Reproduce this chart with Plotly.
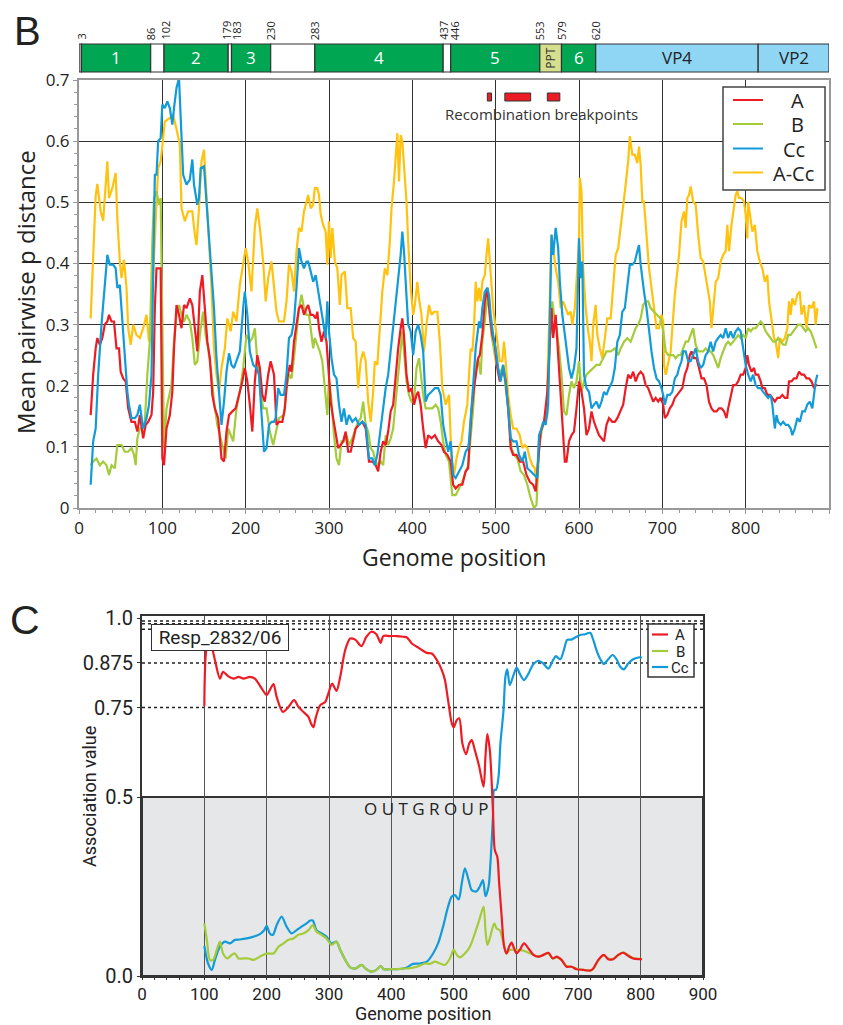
import plotly.graph_objects as go

# The page body has an 8 px margin, so the figure is sized to the remaining window
# and all reference pixel positions are converted with that offset.
OFF = 8
W, H = 843 - OFF, 1025 - OFF


def fx(p):
    return (p - OFF) / W


def fy(p):
    return 1 - (p - OFF) / H


# ---------------- Panel B data: (genome position, mean pairwise p distance) ----------------
B_ACC = [(14,.31),(17,.40),(20,.51),(22,.53),(24,.51),(26,.485),(29,.47),(32,.53),(34,.567),(36,.507),(40,.523),(44,.548),(46,.474),(49,.403),(51,.376),(54,.406),(57,.36),(59,.294),(62,.267),(65,.30),(69,.283),(73,.278),(77,.294),(81,.316),(84,.272),(86,.294),(89,.381),(93,.49),(95,.556),(98,.567),(100,.594),(103,.632),(109,.638),(113,.643),(117,.62),(121,.594),(123,.49),(127,.469),(131,.485),(136,.485),(139,.447),(141,.43),(144,.49),(147,.567),(150,.586),(153,.50),(156,.436),(159,.36),(162,.261),(165,.218),(168,.19),(171,.229),(175,.261),(178,.31),(182,.289),(185,.321),(189,.305),(193,.365),(197,.403),(200,.425),(203,.403),(207,.354),(211,.46),(214,.49),(217,.458),(219,.425),(221,.403),(224,.338),(227,.376),(231,.403),(234,.36),
         (237,.321),(240,.305),(246,.305),(249,.338),(252,.398),(255,.387),(258,.354),(261,.42),(264,.458),(267,.452),(270,.485),(273,.501),(275,.512),(278,.49),(281,.496),(283,.523),(286,.523),(288,.512),(290,.48),(293,.463),(296,.452),(298,.398),(300,.469),(302,.409),(304,.458),(307,.403),(310,.392),(313,.332),(315,.381),(319,.387),(322,.327),(326,.327),(329,.278),(332,.272),(335,.196),(338,.24),(341,.256),(344,.24),(347,.174),(350,.141),(353,.19),(355,.24),(358,.234),(361,.294),(364,.354),(367,.392),(370,.381),(373,.436),(375,.49),(378,.534),(380,.578),(382,.613),(384,.534),(386,.61),(388,.60),(391,.545),(393,.501),(395,.436),(398,.36),(401,.316),(403,.332),(406,.37),(408,.343),(411,.316),(414,.256),(417,.30),(420,.332),(423,.316),(426,.321),(430,.321),(433,.272),(436,.196),(440,.169),(444,.185),(447,.081),(450,.054),(453,.081),(456,.098),(459,.109),(462,.141),(466,.169),
         (468,.218),(470,.261),(472,.256),(474,.294),(476,.37),(478,.338),(480,.36),(482,.338),(484,.37),(487,.381),(489,.414),(491,.441),(493,.403),(495,.354),(497,.327),(500,.294),(503,.261),(505,.24),(508,.24),(510,.272),(512,.24),(515,.185),(518,.152),(521,.13),(525,.13),(529,.119),(532,.098),(535,.103),(538,.098),(541,.081),(544,.07),(547,.065),(549,.043),(552,.109),(555,.13),(558,.141),(561,.147),(564,.283),(567,.447),(569,.425),(572,.392),(575,.37),(578,.327),(581,.338),(584,.327),(587,.316),(590,.321),(592,.30),(595,.327),(597,.376),(600,.436),(601,.54),(603,.518),(605,.392),(608,.327),(611,.289),(613,.272),(615,.24),(617,.30),(620,.332),(622,.283),(625,.261),(628,.245),(631,.278),(634,.31),(638,.31),(641,.37),(644,.414),(647,.425),(650,.458),(653,.496),(656,.529),(659,.567),(661,.608),(664,.578),(667,.578),(670,.564),(672,.591),(674,.561),(676,.501),(678,.501),(681,.441),(684,.392),(687,.36),(690,.327),(693,.294),(696,.294),(699,.316),(701,.305),
         (702,.234),(704,.218),(706,.229),(708,.24),(710,.256),(712,.294),(715,.349),(718,.387),(720,.414),(723,.469),(726,.485),(728,.458),(730,.507),(732,.512),(734,.526),(737,.501),(740,.496),(743,.447),(746,.409),(749,.403),(752,.376),(755,.354),(757,.338),(759,.294),(761,.327),(764,.37),(767,.376),(770,.403),(773,.414),(776,.42),(778,.463),(780,.42),(783,.463),(786,.49),(788,.512),(790,.518),(792,.507),(795,.507),(798,.501),(800,.48),(802,.441),(803,.501),(806,.474),(808,.452),(811,.463),(814,.42),(817,.403),(820,.392),(823,.37),(826,.381),(828,.338),(831,.305),(834,.278),(836,.272),(839,.245),(841,.278),(844,.272),(847,.278),(850,.294),(852,.338),(854,.316),(856,.343),(859,.332),(862,.349),(865,.354),(867,.316),(870,.332),(873,.294),(876,.332),(879,.327),(882,.338),(884,.30),(886,.327)]

B_CC = [(14,.038),(17,.109),(20,.13),(23,.218),(27,.30),(31,.37),(34,.414),(37,.398),(41,.398),(44,.392),(46,.36),(49,.365),(52,.305),(55,.261),(58,.19),(60,.169),(63,.147),(67,.147),(70,.152),(73,.169),(75,.147),(77,.13),(81,.147),(84,.169),(87,.218),(89,.381),(91,.545),(93,.545),(95,.60),(98,.605),(100,.66),(103,.654),(106,.665),(109,.654),(112,.627),(114,.654),(117,.687),(120,.703),(122,.632),(125,.545),(129,.529),(133,.537),(136,.57),(138,.529),(142,.496),(144,.507),(146,.556),(150,.559),(153,.50),(156,.441),(159,.381),(162,.327),(165,.245),(168,.19),(171,.136),(174,.174),(177,.223),(180,.253),(183,.234),(186,.229),(190,.245),(193,.256),(197,.327),(199,.354),(202,.316),(205,.256),(209,.234),(213,.229),(216,.218),(219,.163),(222,.092),(225,.098),(228,.136),(231,.141),(234,.141),
        (236,.147),(239,.196),(242,.185),(246,.185),(249,.218),(252,.278),(255,.283),(258,.305),(261,.36),(264,.425),(267,.403),(270,.392),(273,.403),(275,.403),(278,.387),(281,.37),(284,.381),(287,.354),(290,.327),(293,.305),(296,.278),(298,.338),(300,.289),(303,.245),(306,.218),(309,.212),(312,.169),(315,.141),(318,.163),(321,.136),(324,.152),(328,.141),(332,.147),(336,.136),(340,.141),(344,.136),(348,.081),(352,.081),(355,.07),(358,.087),(361,.119),(364,.152),(368,.196),(371,.218),(374,.256),(377,.289),(380,.327),(383,.376),(386,.414),(388,.452),(390,.42),(392,.37),(395,.30),(398,.289),(401,.25),(404,.289),(407,.30),(410,.283),(413,.256),(416,.174),(419,.185),(423,.19),(427,.196),(431,.196),(434,.185),(437,.136),(440,.114),(443,.092),(446,.109),(449,.054),(452,.049),(456,.06),(460,.07),(464,.092),(467,.098),
        (468,.109),(471,.158),(473,.201),(476,.261),(478,.289),(480,.305),(482,.294),(484,.327),(487,.354),(490,.36),(492,.349),(494,.316),(497,.283),(500,.261),(503,.229),(506,.207),(509,.234),(512,.207),(515,.163),(518,.114),(521,.109),(525,.109),(528,.087),(532,.076),(535,.092),(538,.065),(542,.06),(546,.054),(550,.049),(552,.119),(555,.13),(557,.141),(560,.136),(563,.169),(565,.283),(567,.447),(569,.414),(572,.458),(575,.425),(577,.37),(580,.316),(582,.294),(585,.261),(588,.229),(591,.212),(594,.229),(597,.261),(600,.441),(602,.376),(604,.403),(606,.218),(609,.196),(612,.19),(615,.163),(618,.169),(621,.174),(624,.163),(627,.174),(630,.19),(633,.185),(636,.196),(640,.207),(643,.229),(646,.272),(649,.283),(652,.321),(655,.327),(658,.365),(661,.398),(664,.398),(667,.403),(670,.42),(672,.43),(674,.398),(676,.37),(678,.354),(681,.327),(684,.289),(687,.256),(690,.229),(693,.212),(696,.207),(699,.196),(701,.185),
        (703,.169),(706,.185),(709,.185),(712,.19),(715,.212),(718,.218),(720,.229),(723,.24),(725,.256),(728,.256),(731,.24),(734,.24),(737,.25),(740,.261),(743,.24),(746,.229),(749,.234),(752,.25),(755,.256),(758,.272),(761,.256),(764,.272),(767,.278),(770,.283),(773,.278),(776,.294),(779,.278),(782,.289),(785,.278),(788,.289),(791,.294),(794,.289),(797,.261),(800,.234),(803,.218),(806,.207),(809,.218),(812,.201),(815,.196),(818,.196),(821,.19),(824,.185),(827,.18),(830,.185),(832,.169),(835,.13),(837,.152),(839,.141),(842,.136),(845,.141),(848,.136),(851,.136),(854,.13),(856,.119),(859,.13),(862,.147),(865,.141),(868,.158),(871,.158),(874,.169),(877,.174),(880,.163),(882,.185),(884,.207),(886,.218)]

B_A = [(14,.152),(17,.218),(20,.261),(22,.278),(25,.267),(28,.278),(31,.30),(34,.305),(36,.316),(39,.305),(42,.305),(45,.261),(48,.261),(50,.223),(53,.212),(56,.207),(59,.163),(63,.141),(67,.141),(70,.125),(73,.152),(77,.114),(80,.136),(83,.141),(87,.152),(89,.19),(91,.327),(93,.392),(96,.392),(98,.392),(100,.081),(102,.07),(105,.13),(109,.152),(112,.19),(114,.261),(117,.332),(120,.316),(123,.294),(126,.332),(129,.327),(133,.343),(136,.332),(139,.289),(142,.256),(145,.354),(148,.381),(151,.327),(154,.272),(157,.245),(160,.185),(163,.163),(167,.147),(171,.081),(174,.076),(177,.125),(180,.152),(184,.158),(188,.163),(192,.185),(196,.207),(199,.229),(202,.207),(205,.169),(208,.125),(211,.207),(214,.25),(217,.229),(220,.185),(223,.174),(227,.218),(230,.24),(234,.218),
       (237,.136),(240,.141),(244,.141),(247,.163),(250,.212),(253,.234),(255,.223),(258,.272),(261,.30),(264,.327),(267,.332),(270,.316),(273,.327),(275,.332),(278,.316),(281,.316),(284,.31),(286,.321),(288,.294),(291,.272),(294,.289),(297,.272),(299,.234),(302,.174),(305,.147),(308,.119),(311,.098),(314,.103),(317,.109),(320,.125),(323,.092),(326,.092),(329,.109),(332,.13),(336,.136),(340,.141),(344,.13),(348,.076),(352,.076),(356,.07),(359,.06),(362,.092),(365,.109),(368,.103),(371,.125),(374,.158),(377,.169),(380,.218),(383,.261),(386,.294),(388,.31),(390,.283),(393,.218),(396,.19),(399,.196),(402,.169),(405,.185),(407,.19),(410,.169),(413,.13),(416,.098),(419,.119),(423,.114),(427,.119),(431,.109),(435,.103),(438,.092),(442,.087),(446,.076),(449,.038),(452,.032),(456,.038),(460,.038),(464,.06),(467,.065),
       (468,.092),(471,.158),(474,.196),(477,.229),(479,.245),(481,.25),(484,.283),(487,.338),(490,.36),(493,.316),(496,.283),(499,.267),(502,.229),(505,.207),(509,.229),(512,.207),(515,.163),(518,.098),(521,.087),(525,.087),(529,.076),(533,.076),(537,.054),(541,.043),(545,.038),(548,.027),(551,.076),(554,.125),(558,.141),(562,.19),(565,.272),(567,.327),(569,.278),(572,.316),(575,.25),(577,.207),(580,.136),(583,.076),(585,.076),(588,.109),(591,.119),(594,.125),(597,.163),(600,.207),(603,.19),(606,.163),(609,.119),(612,.13),(615,.158),(618,.141),(621,.13),(624,.119),(627,.114),(630,.109),(633,.136),(636,.147),(640,.141),(643,.141),(646,.147),(650,.158),(653,.169),(656,.196),(659,.218),(662,.212),(665,.223),(668,.207),(671,.218),(674,.223),(677,.218),(680,.201),(683,.196),(686,.185),(689,.174),(692,.18),(695,.174),(698,.18),(701,.169),
       (703,.147),(706,.152),(709,.163),(712,.169),(715,.18),(718,.185),(721,.19),(724,.196),(727,.218),(730,.229),(733,.25),(735,.256),(738,.245),(741,.245),(744,.229),(747,.212),(750,.212),(753,.201),(756,.174),(759,.163),(762,.158),(765,.158),(768,.163),(771,.163),(774,.158),(777,.147),(779,.163),(782,.185),(785,.201),(788,.201),(791,.207),(794,.218),(797,.218),(800,.229),(802,.25),(804,.234),(807,.223),(810,.229),(812,.218),(815,.218),(818,.207),(820,.196),(823,.196),(826,.185),(829,.185),(832,.18),(835,.174),(838,.18),(841,.18),(844,.185),(847,.18),(850,.18),(852,.207),(855,.207),(858,.212),(861,.212),(864,.223),(867,.218),(870,.218),(873,.212),(876,.212),(879,.207),(882,.196),(884,.201),(886,.201)]

B_B = [(14,.07),(17,.076),(21,.081),(25,.07),(29,.076),(33,.07),(36,.054),(39,.07),(43,.065),(46,.103),(51,.103),(55,.092),(59,.092),(63,.098),(66,.087),(68,.07),(70,.114),(73,.13),(76,.13),(79,.141),(82,.218),(85,.272),(88,.436),(90,.507),(93,.518),(96,.496),(98,.507),(100,.327),(102,.098),(105,.163),(108,.185),(111,.201),(114,.272),(117,.316),(120,.332),(123,.316),(126,.305),(129,.316),(133,.305),(136,.278),(139,.234),(142,.24),(146,.294),(149,.321),(152,.283),(155,.261),(159,.218),(162,.174),(166,.136),(170,.114),(174,.087),(176,.081),(179,.13),(182,.119),(185,.109),(189,.163),(193,.19),(197,.229),(201,.283),(205,.272),(208,.278),(211,.294),(214,.24),(218,.19),(221,.163),(225,.163),(229,.125),(233,.103),
       (237,.13),(240,.147),(246,.152),(249,.196),(252,.218),(255,.212),(258,.245),(261,.283),(264,.327),(267,.349),(270,.327),(273,.316),(276,.316),(278,.294),(281,.261),(283,.278),(286,.267),(289,.256),(292,.24),(295,.19),(298,.152),(300,.212),(303,.174),(306,.119),(309,.081),(312,.07),(315,.109),(318,.109),(321,.119),(324,.103),(328,.114),(332,.13),(335,.141),(338,.147),(341,.174),(344,.136),(347,.125),(350,.098),(353,.092),(356,.076),(359,.07),(362,.076),(365,.07),(368,.119),(371,.103),(374,.114),(377,.13),(380,.174),(383,.218),(386,.267),(388,.289),(390,.256),(393,.207),(396,.185),(399,.174),(402,.174),(405,.229),(408,.245),(410,.218),(413,.185),(416,.163),(420,.163),(424,.163),(428,.169),(431,.163),(434,.141),(437,.109),(440,.087),(444,.076),(448,.021),(452,.021),(456,.032),(460,.043),(464,.06),(467,.07),
       (473,.163),(476,.229),(479,.245),(482,.218),(484,.272),(487,.305),(490,.349),(492,.327),(495,.283),(498,.261),(501,.234),(505,.218),(509,.234),(512,.196),(516,.152),(519,.098),(522,.087),(526,.081),(530,.06),(534,.054),(538,.038),(542,.016),(546,.0),(549,.005),(552,.098),(555,.125),(558,.141),(562,.152),(565,.272),(568,.338),(570,.316),(573,.294),(576,.261),(579,.218),(582,.158),(585,.152),(588,.185),(591,.207),(594,.196),(597,.207),(600,.24),(603,.19),(606,.207),(609,.218),(613,.223),(617,.229),(621,.234),(625,.234),(629,.245),(633,.256),(638,.256),(643,.261),(647,.25),(650,.261),(654,.272),(658,.278),(662,.272),(665,.283),(668,.294),(671,.30),(674,.31),(677,.332),(680,.338),(683,.338),(686,.327),(690,.321),(694,.316),(698,.31),(701,.29),
       (704,.256),(707,.25),(710,.25),(713,.25),(716,.245),(719,.25),(722,.25),(725,.261),(728,.272),(731,.272),(734,.283),(737,.294),(740,.267),(743,.256),(746,.256),(749,.256),(752,.261),(755,.256),(758,.256),(761,.25),(764,.24),(767,.229),(770,.245),(773,.256),(776,.267),(779,.272),(782,.267),(785,.272),(788,.278),(791,.283),(794,.278),(797,.283),(800,.278),(803,.294),(806,.289),(809,.294),(812,.294),(815,.30),(818,.305),(821,.30),(824,.289),(827,.283),(830,.278),(833,.272),(836,.272),(839,.278),(842,.272),(845,.267),(848,.267),(851,.283),(854,.283),(857,.289),(860,.294),(863,.30),(866,.30),(869,.294),(872,.289),(875,.294),(878,.289),(881,.278),(883,.267),(885,.261)]

# ---------------- Panel C data: (genome position, association value) ----------------
C_A = [(100,.754),(104,.92),(109,.935),(117,.883),(125,.831),(130,.85),(138,.838),(147,.831),(155,.836),(163,.831),(173,.836),(181,.831),(192,.804),(200,.785),(205,.799),(211,.816),(216,.78),(226,.738),(235,.752),(244,.771),(251,.752),(259,.738),(267,.724),(271,.706),(275,.695),(279,.724),(286,.757),(294,.766),(299,.79),(305,.817),(312,.797),(318,.836),(326,.911),(334,.943),(342,.94),(352,.922),(360,.948),(368,.962),(376,.955),(383,.931),(387,.95),(398,.95),(409,.95),(419,.948),(425,.946),(433,.929),(441,.92),(449,.911),(457,.903),(465,.901),(473,.883),(481,.855),(486,.827),(491,.771),(497,.706),(500,.695),(505,.715),(509,.72),(514,.65),(520,.62),(525,.65),(529,.659),(534,.631),(541,.585),(548,.529),(551,.613),(554,.676),(558,.631),(563,.464),(566,.352),(570,.333),(573,.259),(577,.166),(581,.082),(585,.063),(589,.082),(593,.093),(597,.077),(601,.063),(606,.073),(613,.091),(620,.077),(628,.059),(636,.054),(644,.059),(652,.065),(659,.049),(665,.054),(673,.045),(681,.026),(689,.026),(697,.019),(708,.017),(719,.015),(724,.021),(732,.045),(741,.059),(748,.047),(756,.047),(764,.059),(772,.065),(780,.056),(788,.049),(796,.047),(802,.047)]

C_CC = [(100,.084),(106,.035),(112,.017),(117,.045),(125,.082),(133,.096),(141,.091),(149,.101),(157,.102),(168,.105),(179,.11),(189,.117),(196,.128),(200,.14),(205,.119),(210,.115),(216,.142),(224,.166),(232,.138),(240,.119),(248,.128),(256,.138),(264,.147),(270,.155),(274,.155),(280,.128),(288,.119),(296,.11),(304,.091),(312,.096),(318,.073),(326,.045),(334,.024),(343,.021),(352,.031),(360,.019),(368,.012),(376,.017),(383,.028),(388,.019),(398,.019),(409,.019),(419,.021),(425,.024),(435,.034),(446,.035),(457,.04),(467,.063),(475,.091),(483,.138),(491,.194),(497,.222),(502,.226),(508,.214),(513,.259),(518,.301),(524,.268),(529,.24),(536,.236),(542,.25),(547,.268),(551,.223),(556,.25),(559,.315),(563,.445),(565,.52),(568,.52),(572,.557),(575,.65),(580,.743),(583,.836),(586,.857),(590,.813),(596,.841),(601,.862),(606,.845),(613,.827),(620,.845),(628,.872),(636,.881),(644,.873),(652,.859),(659,.881),(664,.894),(671,.885),(677,.912),(682,.939),(689,.94),(695,.946),(703,.953),(711,.955),(719,.959),(724,.939),(730,.906),(736,.883),(741,.872),(748,.885),(755,.897),(762,.883),(767,.864),(773,.857),(780,.873),(788,.885),(796,.89),(802,.89)]

C_B = [(100,.147),(104,.101),(109,.045),(114,.045),(120,.073),(125,.096),(130,.063),(137,.049),(144,.059),(149,.063),(155,.049),(163,.049),(171,.049),(179,.045),(189,.054),(200,.063),(211,.063),(219,.082),(227,.091),(235,.101),(243,.105),(251,.115),(259,.119),(267,.128),(274,.142),(280,.124),(288,.115),(296,.105),(304,.087),(312,.096),(318,.073),(326,.045),(334,.024),(343,.021),(352,.031),(360,.019),(368,.012),(376,.017),(383,.028),(388,.019),(398,.019),(409,.019),(419,.021),(425,.021),(441,.026),(454,.035),(462,.034),(470,.04),(478,.035),(486,.031),(494,.049),(500,.073),(505,.059),(510,.052),(518,.063),(526,.082),(534,.119),(541,.156),(548,.194),(551,.128),(554,.087),(558,.105),(565,.147),(569,.133),(574,.128),(580,.091),(585,.063),(590,.073),(601,.073),(612,.071),(623,.063),(636,.054),(644,.059),(652,.062),(659,.049),(665,.052),(673,.045),(681,.028),(689,.026),(697,.021),(708,.017),(719,.015),(724,.02),(732,.043),(741,.058),(748,.049),(756,.048),(764,.058),(772,.066),(780,.058),(788,.05),(796,.048),(802,.048)]

# ---------------- Genome map (panel B header) ----------------
SEG_START = [0, 3, 86, 102, 179, 183, 230, 283, 437, 446, 553, 579, 620, 815]
SEG_END = [3, 86, 102, 179, 183, 230, 283, 437, 446, 553, 579, 620, 815, 900]
SEG_LABEL = ['', '1', '', '2', '', '3', '', '4', '', '5', 'PPT', '6', 'VP4', 'VP2']
SEG_KIND = ['edge', 'g', 'w', 'g', 'w', 'g', 'w', 'g', 'w', 'g', 'ppt', 'g', 'vp', 'vp']
BOUNDARY_POS = [3, 86, 102, 179, 183, 230, 283, 437, 446, 553, 579, 620]
BREAKPOINTS = [(490, 495), (511, 542), (562, 577)]

C_TICKVALS = [0, 0.5, 0.75, 0.875, 1.0]
C_TICKTEXT = ['0.0', '0.5', '0.75', '0.875', '1.0']
C_DOTTED = [0.75, 0.875, 0.96875, 0.984375, 0.9921875]

B_LEGEND = ['A', 'B', 'Cc', 'A-Cc']
C_LEGEND = ['A', 'B', 'Cc']

RED, GREEN, BLUE, YELLOW = '#ed1c24', '#a4cb3a', '#129bd8', '#ffc20e'
FONT = 'Open Sans, Noto Sans, sans-serif'
NARROW = 'Roboto, Liberation Sans, sans-serif'

fig = go.Figure()


def xy(pairs):
    return [p for p, _ in pairs], [v for _, v in pairs]


for name, data, color in [('A-Cc', B_ACC, YELLOW), ('B', B_B, GREEN), ('A', B_A, RED), ('Cc', B_CC, BLUE)]:
    x, y = xy(data)
    fig.add_trace(go.Scatter(x=x, y=y, mode='lines', name=name, showlegend=False,
                             line=dict(color=color, width=2.2), xaxis='x', yaxis='y', hoverinfo='skip'))

for name, data, color in [('Cc', C_CC, BLUE), ('B', C_B, GREEN), ('A', C_A, RED)]:
    x, y = xy(data)
    fig.add_trace(go.Scatter(x=x, y=y, mode='lines', name=name, showlegend=False,
                             line=dict(color=color, width=2.2, shape='spline', smoothing=0.8),
                             xaxis='x2', yaxis='y2', hoverinfo='skip'))

shapes = []
annotations = []


def note(x, y, text, size, family=FONT, color='#222', **kw):
    d = dict(x=x, y=y, xref=kw.pop('xref', 'paper'), yref=kw.pop('yref', 'paper'), text=text,
             showarrow=False, xanchor=kw.pop('xanchor', 'center'), yanchor=kw.pop('yanchor', 'middle'),
             font=dict(family=family, size=size, color=color))
    d.update(kw)
    annotations.append(d)


# Genome bar
bar_y0, bar_y1 = fy(72), fy(44)
fills = {'g': '#00a651', 'w': '#ffffff', 'ppt': '#d6df8e', 'vp': '#8fd6f4', 'edge': '#bdbdbd'}
for s, e, lab, kind in zip(SEG_START, SEG_END, SEG_LABEL, SEG_KIND):
    shapes.append(dict(type='rect', xref='x', yref='paper', x0=s, x1=e, y0=bar_y0, y1=bar_y1,
                       fillcolor=fills[kind], line=dict(color='#333333', width=1.2), layer='above'))
    if lab:
        mid = (bar_y0 + bar_y1) / 2
        if kind == 'ppt':
            note((s + e) / 2, mid, lab, 12, xref='x', textangle=-90, color='#333')
        else:
            note((s + e) / 2, mid, lab, 17, xref='x', color='white' if kind == 'g' else '#222')
label_shift = {179: -2, 183: 5, 446: 4, 102: 1}
for b in BOUNDARY_POS:
    note(b, fy(42), str(b), 11, xref='x', textangle=-90, yanchor='bottom', xshift=label_shift.get(b, 0))

# Recombination breakpoints
for s, e in BREAKPOINTS:
    shapes.append(dict(type='rect', xref='x', yref='paper', x0=s, x1=e, y0=fy(101), y1=fy(93),
                       fillcolor=RED, line=dict(color='#333', width=1), layer='above'))
note(fx(541), fy(114), 'Recombination breakpoints', 15, color='#333')

# Panel B legend (drawn box with line samples)
shapes.append(dict(type='rect', xref='paper', yref='paper', x0=fx(723), x1=fx(825), y0=fy(190), y1=fy(87),
                   fillcolor='white', line=dict(color='#444', width=1.5), layer='above'))
for lab, col, yy, tx in zip(B_LEGEND, [RED, GREEN, BLUE, YELLOW], [100, 124, 148.5, 172.5], [797, 797, 794, 793]):
    shapes.append(dict(type='line', xref='paper', yref='paper', x0=fx(733), x1=fx(763), y0=fy(yy), y1=fy(yy),
                       line=dict(color=col, width=2), layer='above'))
    note(fx(tx), fy(yy + 1), lab, 20)

# Panel C shading and dotted reference lines
shapes.append(dict(type='rect', xref='x2', yref='y2', x0=0, x1=900, y0=0, y1=0.5,
                   fillcolor='#e6e7e8', line=dict(color='#333', width=2), layer='below'))
for v in C_DOTTED:
    shapes.append(dict(type='line', xref='x2', yref='y2', x0=0, x1=900, y0=v, y1=v,
                       line=dict(color='#222', width=1.5, dash='dot'), layer='below'))

# Panel C legend
shapes.append(dict(type='rect', xref='paper', yref='paper', x0=fx(648), x1=fx(694), y0=fy(677), y1=fy(624),
                   fillcolor='white', line=dict(color='#333', width=1.5), layer='above'))
for lab, col, yy in zip(C_LEGEND, [RED, GREEN, BLUE], [634.5, 651, 667]):
    shapes.append(dict(type='line', xref='paper', yref='paper', x0=fx(652), x1=fx(668), y0=fy(yy), y1=fy(yy),
                       line=dict(color=col, width=2.2), layer='above'))
    note(fx(680), fy(yy + 0.5), lab, 15, family=NARROW)

note(fx(27), fy(31), 'B', 40, family='Liberation Sans, Arial, sans-serif')
note(fx(25), fy(620), 'C', 41, family='Liberation Sans, Arial, sans-serif')
note(fx(454), fy(557), 'Genome position', 23)
note(fx(25), fy(292), 'Mean pairwise p distance', 24, textangle=-90)
note(fx(423), fy(1013), 'Genome position', 18, family=NARROW)
note(fx(89), fy(797), 'Association value', 18, family=NARROW, textangle=-90)
note(fx(220), fy(637), 'Resp_2832/06', 19, family=NARROW, bgcolor='white', bordercolor='#333',
     borderwidth=1, borderpad=0, width=136, height=25)
note(fx(426), fy(808), 'O U T G R O U P', 17)

axis_b = dict(showgrid=True, gridcolor='#333', gridwidth=1, zeroline=False, showline=True, mirror=True,
              linecolor='#999', linewidth=2, ticks='outside', ticklen=4, tickcolor='#999', automargin=False,
              tickfont=dict(family=FONT, size=17, color='#222'))
axis_c = dict(zeroline=False, showline=True, mirror=True, linecolor='#333', linewidth=2,
              ticks='outside', tickcolor='#333', automargin=False)

fig.update_layout(
    width=W, height=H, margin=dict(l=0, r=0, t=0, b=0, autoexpand=False),
    paper_bgcolor='white', plot_bgcolor='white', showlegend=False,
    xaxis=dict(domain=[fx(79), fx(829)], range=[0, 900], tickvals=list(range(0, 901, 100)),
               minor=dict(dtick=20, ticks='outside', ticklen=3, tickcolor='#999', showgrid=False),
               anchor='y', **axis_b),
    yaxis=dict(domain=[fy(508), fy(80)], range=[0, 0.7], tickvals=[0, .1, .2, .3, .4, .5, .6, .7],
               ticktext=['0', '0.1', '0.2', '0.3', '0.4', '0.5', '0.6', '0.7'],
               minor=dict(dtick=0.02, ticks='outside', ticklen=3, tickcolor='#999', showgrid=False),
               anchor='x', **axis_b),
    xaxis2=dict(domain=[fx(142), fx(703)], range=[0, 900], tickvals=list(range(0, 901, 100)),
                showgrid=True, gridcolor='#555', gridwidth=1, ticklen=2,
                minor=dict(dtick=20, ticks='outside', ticklen=2, tickcolor='#333', showgrid=False),
                tickfont=dict(family=NARROW, size=17, color='#222'),
                anchor='y2', **axis_c),
    yaxis2=dict(domain=[fy(976), fy(616)], range=[0, 1.006], tickvals=C_TICKVALS, ticktext=C_TICKTEXT,
                tickfont=dict(family=NARROW, size=20, color='#222'), ticklen=3,
                showgrid=False, anchor='x2', **axis_c),
    shapes=shapes, annotations=annotations,
)

fig.write_html('out.html')
